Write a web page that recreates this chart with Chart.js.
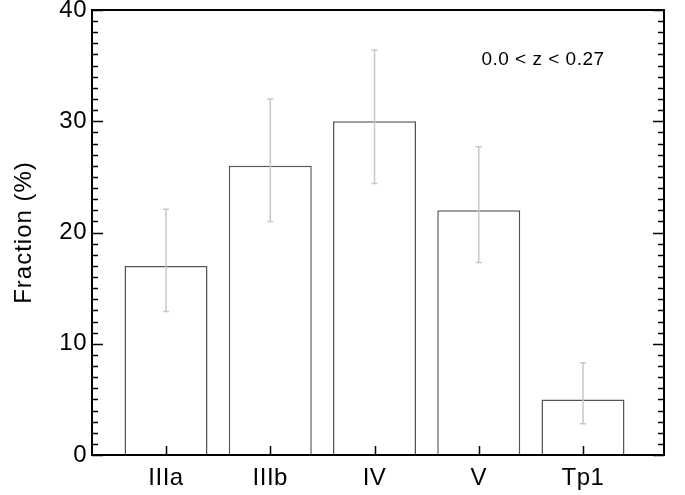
<!DOCTYPE html>
<html>
<head>
<meta charset="utf-8">
<script src="https://cdn.jsdelivr.net/npm/chart.js@4/dist/chart.umd.min.js"></script>
<style>
  html, body { margin: 0; padding: 0; background: #fff; }
  #wrap { width: 685px; height: 495px; }
</style>
</head>
<body>
<div id="wrap"><canvas id="fracChart" width="685" height="495"></canvas></div>
<script>
// Galaxy class fractions, 0.0 < z < 0.27
const classes = ['IIIa', 'IIIb', 'IV', 'V', 'Tp1'];
const fractions = [17.0, 26.0, 30.0, 22.0, 5.0];
const errUpper = [22.1, 32.0, 36.4, 27.7, 8.3];
const errLower = [12.9, 21.0, 24.4, 17.3, 2.8];
const yTicks = [0, 10, 20, 30, 40];

const FONT = '"Liberation Sans", Arial, Helvetica, sans-serif';

// frame, inward tick marks, error bars, axis title and the redshift note
const framePlugin = {
  id: 'frame',
  beforeDraw(chart) {
    chart.ctx.letterSpacing = '0.5px';
  },
  afterDatasetsDraw(chart) {
    const ctx = chart.ctx;
    const area = chart.chartArea;
    const x = chart.scales.x;
    const y = chart.scales.y;
    ctx.save();

    // error bars
    ctx.strokeStyle = '#c8c8c8';
    ctx.lineWidth = 1.5;
    classes.forEach((c, i) => {
      const px = x.getPixelForValue(i + 1);
      const top = y.getPixelForValue(errUpper[i]);
      const bot = y.getPixelForValue(errLower[i]);
      ctx.beginPath();
      ctx.moveTo(px, top);
      ctx.lineTo(px, bot);
      ctx.moveTo(px - 3, top);
      ctx.lineTo(px + 3, top);
      ctx.moveTo(px - 3, bot);
      ctx.lineTo(px + 3, bot);
      ctx.stroke();
    });

    // left / right ticks, major every 10, minor every 1
    ctx.strokeStyle = '#000';
    ctx.lineWidth = 1.5;
    ctx.beginPath();
    for (let v = 0; v <= 40; v++) {
      const py = Math.round(y.getPixelForValue(v)) + 0.5;
      const len = v % 10 === 0 ? 11 : 6;
      ctx.moveTo(area.left, py);
      ctx.lineTo(area.left + len, py);
      ctx.moveTo(area.right, py);
      ctx.lineTo(area.right - len, py);
    }
    // bottom ticks at class centres
    classes.forEach((c, i) => {
      const px = Math.round(x.getPixelForValue(i + 1)) + 0.5;
      ctx.moveTo(px, area.bottom);
      ctx.lineTo(px, area.bottom - 9);
    });
    ctx.stroke();

    // box
    ctx.lineWidth = 2;
    ctx.strokeRect(area.left, area.top, area.right - area.left, area.bottom - area.top);

    ctx.fillStyle = '#000';
    ctx.textAlign = 'center';
    ctx.textBaseline = 'middle';
    ctx.font = '19px ' + FONT;
    ctx.letterSpacing = '0.5px';
    ctx.fillText('0.0 < z < 0.27', area.right - 121, area.top + 50);

    // y axis title
    ctx.font = '24px ' + FONT;
    ctx.letterSpacing = '1px';
    ctx.translate(24, (area.top + area.bottom) / 2);
    ctx.rotate(-Math.PI / 2);
    ctx.fillText('Fraction (%)', 0, 0);
    ctx.restore();
  }
};

new Chart(document.getElementById('fracChart'), {
  type: 'bar',
  data: {
    datasets: [{
      data: fractions.map((v, i) => ({ x: i + 1, y: v })),
      backgroundColor: '#ffffff',
      borderColor: '#555555',
      borderWidth: 1.5,
      barPercentage: 0.796,
      categoryPercentage: 1.0
    }]
  },
  options: {
    responsive: false,
    animation: false,
    layout: { padding: { top: 10, right: 21, left: 0, bottom: 0 } },
    plugins: {
      legend: { display: false },
      tooltip: { enabled: false }
    },
    scales: {
      x: {
        type: 'linear',
        offset: false,
        min: 0.29,
        max: 5.777,
        grid: { display: false, drawTicks: false },
        border: { display: false },
        afterBuildTicks(scale) {
          scale.ticks = classes.map((c, i) => ({ value: i + 1 }));
        },
        afterFit(scale) {
          scale.height = 40;
          scale.paddingLeft = 0;
          scale.paddingRight = 0;
        },
        ticks: {
          autoSkip: false,
          maxRotation: 0,
          padding: 9,
          color: '#000',
          font: { family: FONT, size: 24 },
          callback: (v) => classes[Math.round(v) - 1] || ''
        }
      },
      y: {
        min: 0,
        max: 40,
        grid: { display: false, drawTicks: false },
        border: { display: false },
        afterBuildTicks(scale) {
          scale.ticks = yTicks.map(v => ({ value: v }));
        },
        afterFit(scale) {
          scale.width = 92;
          scale.paddingTop = 0;
          scale.paddingBottom = 0;
        },
        ticks: {
          padding: 5,
          color: '#000',
          font: { family: FONT, size: 24 }
        }
      }
    }
  },
  plugins: [framePlugin]
});
</script>
</body>
</html>
